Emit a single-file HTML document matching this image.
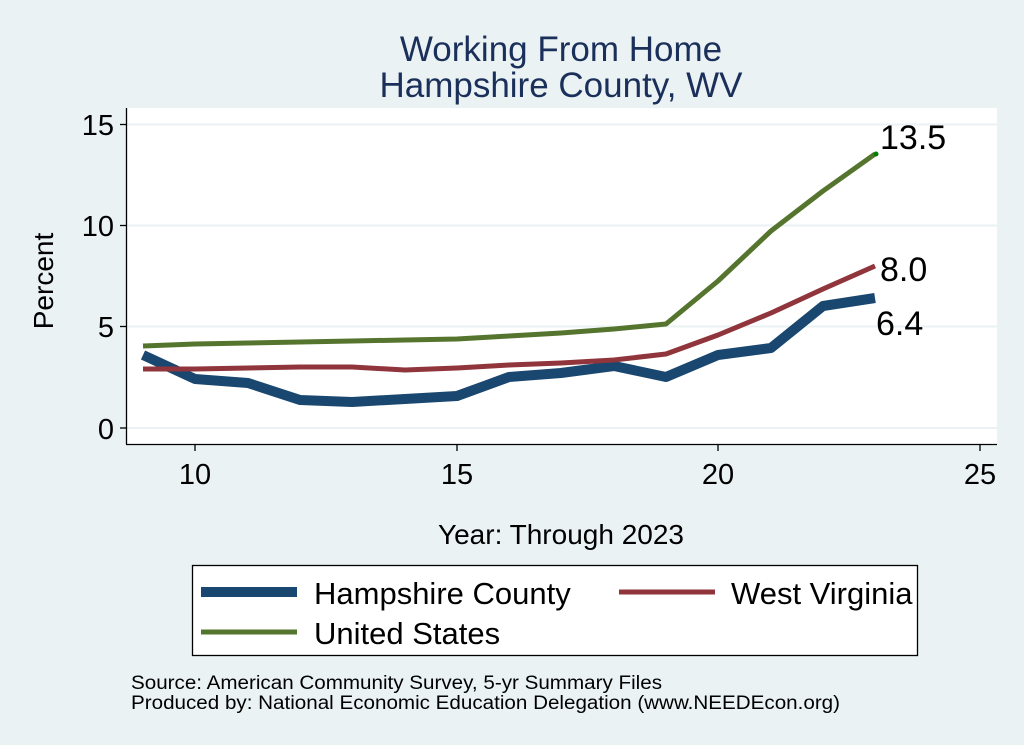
<!DOCTYPE html>
<html><head><meta charset="utf-8"><style>
body{margin:0;background:#eaf2f3;}
svg{display:block;font-family:"Liberation Sans",sans-serif;}
</style></head><body>
<svg width="1024" height="745" viewBox="0 0 1024 745">
<rect width="1024" height="745" fill="#eaf2f3"/>
<text x="561" y="61" font-size="35" fill="#1a2f5a" text-anchor="middle">Working From Home</text>
<text x="561" y="97" font-size="35" fill="#1a2f5a" text-anchor="middle">Hampshire County, WV</text>
<rect x="127" y="108" width="870" height="336" fill="#fff"/>
<g stroke="#eaf2f3" stroke-width="2">
<line x1="127" x2="997" y1="124.5" y2="124.5"/><line x1="127" x2="997" y1="225.5" y2="225.5"/>
<line x1="127" x2="997" y1="326.5" y2="326.5"/><line x1="127" x2="997" y1="428" y2="428"/>
</g>
<g stroke="#000" stroke-width="1.3">
<line x1="126.5" y1="108" x2="126.5" y2="444"/><line x1="126" y1="444.5" x2="997" y2="444.5"/>
<line x1="120" x2="126" y1="124.5" y2="124.5"/><line x1="120" x2="126" y1="225.5" y2="225.5"/>
<line x1="120" x2="126" y1="326.5" y2="326.5"/><line x1="120" x2="126" y1="428" y2="428"/>
<line x1="195" x2="195" y1="444" y2="451"/><line x1="457" x2="457" y1="444" y2="451"/>
<line x1="718" x2="718" y1="444" y2="451"/><line x1="980" x2="980" y1="444" y2="451"/>
</g>
<g font-size="29" text-anchor="end"><text x="114" y="135">15</text><text x="114" y="236">10</text><text x="114" y="337">5</text><text x="114" y="439">0</text></g>
<g font-size="29" text-anchor="middle"><text x="195" y="484">10</text><text x="457" y="484">15</text><text x="718" y="484">20</text><text x="980" y="484">25</text></g>
<text x="53" y="281" font-size="28" text-anchor="middle" transform="rotate(-90 53 281)">Percent</text>
<text x="561" y="544" font-size="28" text-anchor="middle">Year: Through 2023</text>
<polyline fill="none" stroke="#1a476f" stroke-width="10" stroke-linejoin="round" points="143,355 195,379 248,383 300,400 352,402 405,399 457,396 509,377 561,373 614,366 666,377 718,355 771,348 823,306 875,298"/>
<polyline fill="none" stroke="#90353b" stroke-width="5" stroke-linejoin="round" points="143,369 195,369 248,368 300,367 352,367 405,370 457,368 509,365 561,363 614,360 666,354 718,335 771,313 823,289 875,266"/>
<polyline fill="none" stroke="#55752f" stroke-width="5" stroke-linejoin="round" points="143,346 195,344 248,343 300,342 352,341 405,340 457,339 509,336 561,333 614,329 666,324 718,281 771,231 823,191 875,154"/>
<circle cx="876" cy="154" r="2.5" fill="#008000"/>
<g font-size="34"><text x="880" y="149">13.5</text><text x="880" y="281">8.0</text><text x="876" y="335">6.4</text></g>
<rect x="192.5" y="565.5" width="725" height="90" fill="#fff" stroke="#000" stroke-width="1.3"/>
<line x1="201" x2="297" y1="592" y2="592" stroke="#1a476f" stroke-width="10"/>
<line x1="619" x2="715" y1="592" y2="592" stroke="#90353b" stroke-width="5"/>
<line x1="201" x2="297" y1="632" y2="632" stroke="#55752f" stroke-width="5"/>
<g font-size="31"><text x="314" y="604">Hampshire County</text><text x="731" y="604">West Virginia</text><text x="314" y="644">United States</text></g>
<g font-size="19"><text x="131" y="689" textLength="531" lengthAdjust="spacingAndGlyphs">Source: American Community Survey, 5-yr Summary Files</text>
<text x="131" y="709" textLength="709" lengthAdjust="spacingAndGlyphs">Produced by: National Economic Education Delegation (www.NEEDEcon.org)</text></g>
</svg>
</body></html>
